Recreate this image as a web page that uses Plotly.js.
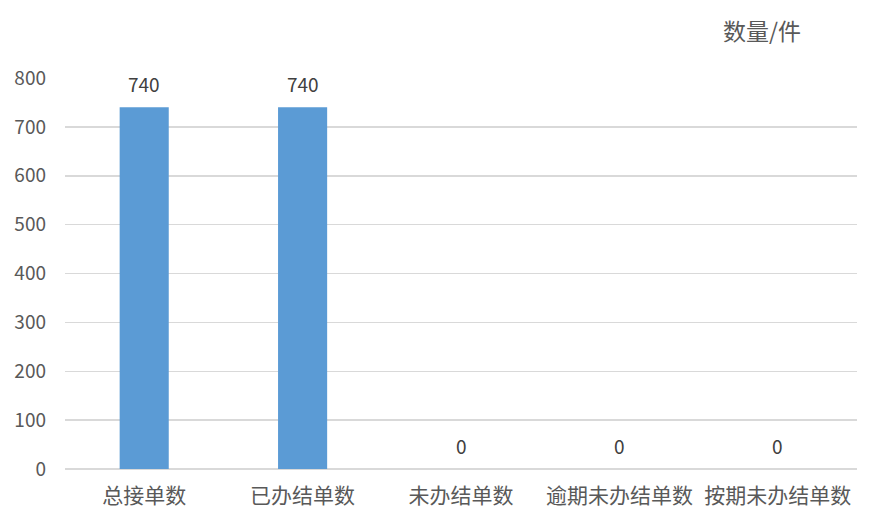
<!DOCTYPE html>
<html>
<head>
<meta charset="utf-8">
<script src="https://cdn.plot.ly/plotly-3.0.1.min.js"></script>
<style>
  html, body { margin: 0; padding: 0; background: #fff; }
  #chart { width: 879px; height: 521px; }
</style>
</head>
<body>
<div id="chart"></div>
<script>
// categories and counts
const categories = ['总接单数', '已办结单数', '未办结单数', '逾期未办结单数', '按期未办结单数'];
const counts = [740, 740, 0, 0, 0];
const yTicks = [0, 100, 200, 300, 400, 500, 600, 700, 800];

const fontFamily = '"Noto Sans CJK SC", "Noto Sans", sans-serif';

const trace = {
    type: 'bar',
    x: categories,
    y: counts,
    marker: { color: '#5B9BD5' },
    hoverinfo: 'x+y'
};

// value labels above each bar
const labels = categories.map((c, i) => ({
    x: c,
    y: counts[i],
    xref: 'x',
    yref: 'y',
    text: String(counts[i]),
    showarrow: false,
    yanchor: 'middle',
    yshift: 24,
    font: { family: fontFamily, size: 19, color: '#404040' }
}));

const layout = {
    width: 879,
    height: 521,
    title: {
        text: '数量/件',
        x: 762 / 879,
        xanchor: 'center',
        y: 1 - 32 / 521,
        yanchor: 'middle',
        font: { family: fontFamily, size: 23, color: '#595959' }
    },
    margin: { l: 65, r: 22, t: 78, b: 52 },
    bargap: 0.69,
    showlegend: false,
    plot_bgcolor: '#fff',
    paper_bgcolor: '#fff',
    xaxis: {
        type: 'category',
        showgrid: false,
        showline: false,
        ticks: '',
        tickfont: { family: fontFamily, size: 21, color: '#595959' },
        ticklabelstandoff: 12
    },
    yaxis: {
        range: [0, 800],
        tickvals: yTicks,
        ticktext: yTicks.map(String),
        showgrid: true,
        gridcolor: '#d9d9d9',
        gridwidth: 1.5,
        zeroline: true,
        zerolinecolor: '#d9d9d9',
        zerolinewidth: 1.5,
        showline: false,
        ticks: '',
        tickfont: { family: fontFamily, size: 19, color: '#595959' },
        ticklabelstandoff: 18
    },
    annotations: labels
};

Plotly.newPlot('chart', [trace], layout, { displayModeBar: false, staticPlot: true });
</script>
</body>
</html>
